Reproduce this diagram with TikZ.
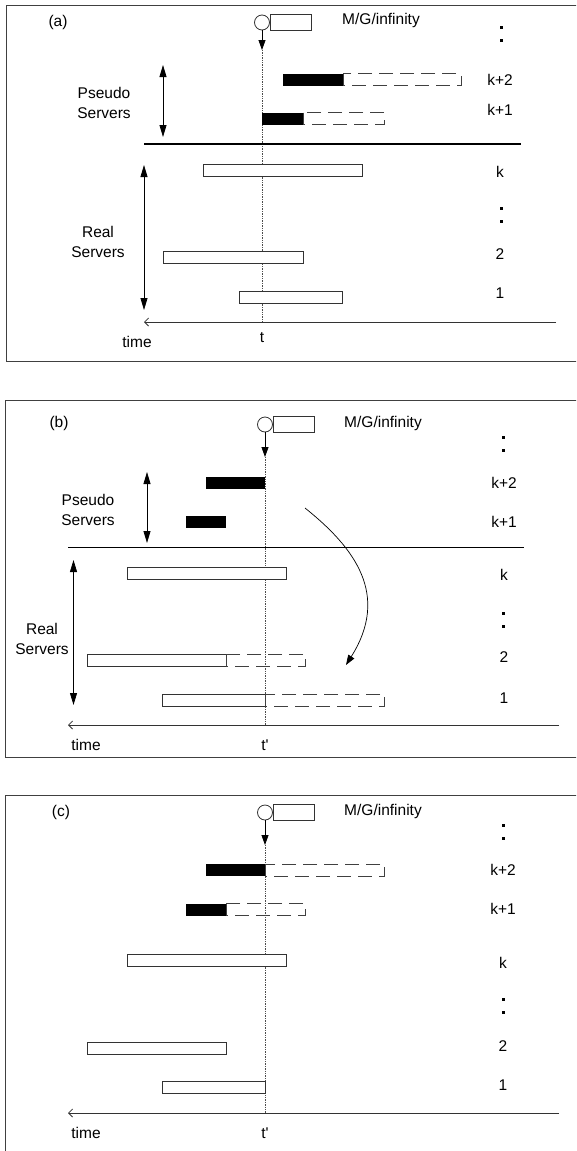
\documentclass[tikz,border=0pt]{standalone}
\usepackage{fontspec}
\setmainfont{Liberation Sans}
\usetikzlibrary{arrows.meta}
\begin{document}
\begin{tikzpicture}[x=1pt,y=-1pt,
  txt/.style={inner sep=0pt,font=\fontsize{15.5}{20}\selectfont},
  frame/.style={draw=black!75,line width=0.9pt},
  realbox/.style={draw=black!80,line width=0.8pt,fill=white},
  blackbar/.style={fill=black},
  dashbar/.style={draw=black!75,line width=0.8pt,dash pattern=on 14pt off 7pt},
  tline/.style={draw=black!70,line width=0.7pt,dash pattern=on 1.4pt off 1pt},
  sep/.style={draw=black,line width=1.4pt},
  axis/.style={draw=black!80,line width=0.8pt,-{Straight Barb[length=4pt,width=8pt]}},
  dbl/.style={draw=black,line width=0.8pt,{Triangle[length=12pt,width=7pt]}-{Triangle[length=12pt,width=7pt]}},
  inarr/.style={draw=black,line width=0.8pt,-{Triangle[length=10pt,width=7pt]}},
  qcirc/.style={circle,draw=black!80,line width=0.8pt,minimum size=15pt,inner sep=0pt,fill=white},
  qbox/.style={rectangle,draw=black!80,line width=0.8pt,minimum width=41pt,minimum height=16pt,inner sep=0pt,anchor=west},
  dotsq/.style={fill=black,minimum size=3pt,inner sep=0pt,rectangle}
]
\useasboundingbox (0,0) rectangle (576,1151);
\clip (0,0) rectangle (576,1151);
\fill[white] (0,0) rectangle (576,1151);

%%%%%%%%%%%%%%%% panel (a)
\draw[frame] (6,5.7) rectangle (600,361);
\node[txt] (la) at (58,22) {(a)};
\node[qcirc] (qa) at (262,22.5) {};
\node[qbox] (ra) at (qa.east) {};
\node[txt] (mga) at (381,20) {M/G/infinity};
\node[dotsq] (da1) at (501,27) {};
\node[dotsq] (da2) at (501,40.5) {};
\coordinate (tipa) at (262,50);
\coordinate (axa) at (262,322);
\draw[tline] (tipa) -- (axa);
\draw[inarr] (qa.south) -- (tipa);
% pseudo
\fill[blackbar] (283,73.5) rectangle (343,85.5);
\draw[dashbar] (343,73.5) rectangle (461,85.5);
\fill[blackbar] (262,112.5) rectangle (303,124.5);
\draw[dashbar] (303,112.5) rectangle (384,124.5);
\draw[sep] (144,144) -- (521,144);
\coordinate (pat) at (163,65); \coordinate (pab) at (163,137);
\draw[dbl] (pat) -- (pab);
\node[txt,align=center] (psa) at (104,103) {Pseudo\\Servers};
% real
\draw[realbox] (203,164) rectangle (362,176);
\draw[realbox] (163,251) rectangle (303,263);
\draw[realbox] (239,291) rectangle (342,303);
\coordinate (rat) at (144,165); \coordinate (rab) at (144,310);
\draw[dbl] (rat) -- (rab);
\node[txt,align=center] (rsa) at (98,242) {Real\\Servers};
% labels
\node[txt] (ka2) at (500,80) {k+2};
\node[txt] (ka1) at (500,110) {k+1};
\node[txt] (kak) at (500,172) {k};
\node[dotsq] (da3) at (501,208) {};
\node[dotsq] (da4) at (501,221.5) {};
\node[txt] (ka02) at (500,254) {2};
\node[txt] (ka01) at (500,293) {1};
% axis
\coordinate (axaR) at (556,322); \coordinate (axaL) at (144,322);
\draw[axis] (axaR) -- (axaL);
\node[txt] (tma) at (137,342) {time};
\node[txt] (tta) at (262,338) {t};

%%%%%%%%%%%%%%%% panel (b)
\draw[frame] (5.5,400.7) rectangle (600,757);
\node[txt] (lb) at (59,423) {(b)};
\node[qcirc] (qb) at (265,424.5) {};
\node[qbox] (rb) at (qb.east) {};
\node[txt] (mgb) at (383,423) {M/G/infinity};
\node[dotsq] (db1) at (503,437) {};
\node[dotsq] (db2) at (503,450.5) {};
\coordinate (tipb) at (265,457);
\coordinate (axb) at (265,725);
\draw[tline] (tipb) -- (axb);
\draw[inarr] (qb.south) -- (tipb);
% pseudo
\fill[blackbar] (206,477) rectangle (265,488.5);
\fill[blackbar] (186,516) rectangle (226,528);
\draw[sep] (68,547.5) -- (524,547.5);
\coordinate (pbt) at (147,472); \coordinate (pbb) at (147,543);
\draw[dbl] (pbt) -- (pbb);
\node[txt,align=center] (psb) at (88,510) {Pseudo\\Servers};
% real
\draw[realbox] (127,567) rectangle (286,579);
\draw[realbox] (87.5,654) rectangle (226,666);
\draw[dashbar] (226,654) rectangle (305,666);
\draw[realbox] (162.5,694) rectangle (265,706);
\draw[dashbar] (265,694) rectangle (384,706);
\coordinate (rbt) at (73.5,560); \coordinate (rbb) at (73.5,705);
\draw[dbl] (rbt) -- (rbb);
\node[txt,align=center] (rsb) at (42,639) {Real\\Servers};
% move arrow
\coordinate (mvs) at (305,508); \coordinate (mve) at (346,665);
\draw[inarr,line width=0.7pt] (mvs) .. controls (355,548) and (390,595) .. (mve);
% labels
\node[txt] (kb2) at (504,483) {k+2};
\node[txt] (kb1) at (504,522) {k+1};
\node[txt] (kbk) at (504,575) {k};
\node[dotsq] (db3) at (503,613) {};
\node[dotsq] (db4) at (503,626.5) {};
\node[txt] (kb02) at (504,657) {2};
\node[txt] (kb01) at (504,698) {1};
% axis
\coordinate (axbR) at (559,725); \coordinate (axbL) at (68,725);
\draw[axis] (axbR) -- (axbL);
\node[txt] (tmb) at (86,745) {time};
\node[txt] (ttb) at (265,745) {t\textquotesingle};

%%%%%%%%%%%%%%%% panel (c)
\draw[frame] (5.5,795) rectangle (600,1160);
\node[txt] (lc) at (61,812) {(c)};
\node[qcirc] (qc) at (265,812.5) {};
\node[qbox] (rc) at (qc.east) {};
\node[txt] (mgc) at (383,811) {M/G/infinity};
\node[dotsq] (dc1) at (503,825) {};
\node[dotsq] (dc2) at (503,838.5) {};
\coordinate (tipc) at (265,845);
\coordinate (axc) at (265,1113);
\draw[tline] (tipc) -- (axc);
\draw[inarr] (qc.south) -- (tipc);
% pseudo
\fill[blackbar] (206,864) rectangle (265,876);
\draw[dashbar] (265,864) rectangle (384,876);
\fill[blackbar] (186,903.5) rectangle (226,915.5);
\draw[dashbar] (226,903.5) rectangle (305,915.5);
% real
\draw[realbox] (127,954.5) rectangle (286,966.5);
\draw[realbox] (87.5,1042) rectangle (226,1054);
\draw[realbox] (162.5,1081.5) rectangle (265,1093.5);
% labels
\node[txt] (kc2) at (503,870) {k+2};
\node[txt] (kc1) at (503,909) {k+1};
\node[txt] (kck) at (503,963) {k};
\node[dotsq] (dc3) at (503,999) {};
\node[dotsq] (dc4) at (503,1012.5) {};
\node[txt] (kc02) at (503,1046) {2};
\node[txt] (kc01) at (503,1085) {1};
% axis
\coordinate (axcR) at (559,1113); \coordinate (axcL) at (68,1113);
\draw[axis] (axcR) -- (axcL);
\node[txt] (tmc) at (86,1133) {time};
\node[txt] (ttc) at (265,1133) {t\textquotesingle};
\end{tikzpicture}
\end{document}
